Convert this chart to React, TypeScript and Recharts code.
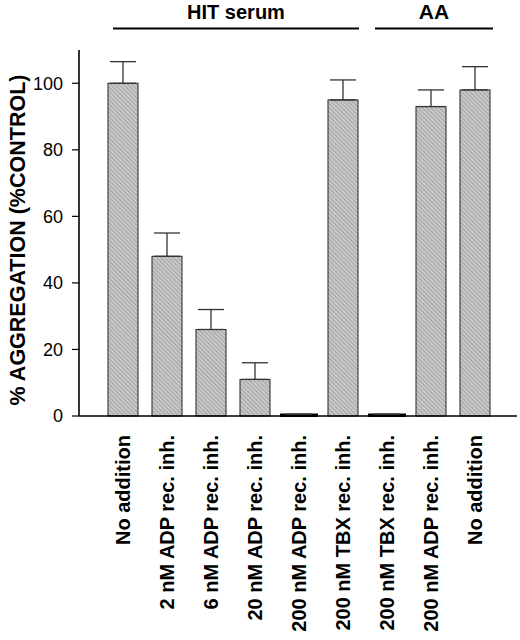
import React from 'react';
import { BarChart, Bar, XAxis, YAxis, ErrorBar } from 'recharts';

const FONT = '"Liberation Sans", Arial, Helvetica, sans-serif';

// conditions, left to right
const labels = [
  'No addition',
  '2 nM ADP rec. inh.',
  '6 nM ADP rec. inh.',
  '20 nM ADP rec. inh.',
  '200 nM ADP rec. inh.',
  '200 nM TBX rec. inh.',
  '200 nM TBX rec. inh.',
  '200 nM ADP rec. inh.',
  'No addition',
];
// % aggregation (% control)
const means = [100, 48, 26, 11, 0.5, 95, 0.5, 93, 98];
// upper error (SD), one-sided
const errors = [6.5, 7, 6, 5, 0, 6, 0, 5, 7];
const yTicks = [0, 20, 40, 60, 80, 100];

const data = labels.map((label, i) => ({
  key: `c${i}`,
  label,
  value: means[i],
  err: [0, errors[i]],
}));

function CategoryTick(props: any) {
  const { x, y, payload } = props;
  const text = labels[payload.index] ?? '';
  return (
    <text
      x={x}
      y={y}
      transform={`rotate(-90, ${x}, ${y})`}
      textAnchor="end"
      dy="0.36em"
      fontFamily={FONT}
      fontWeight="bold"
      fontSize={20}
      fill="#000"
    >
      {text}
    </text>
  );
}

function HatchBar(props: any) {
  const { x, y, width, height, payload } = props;
  if (payload.value < 1) {
    // tiny values show up as a thick black stroke on the baseline
    return <rect x={x - 4} y={y + height - 2.5} width={width + 8} height={3.5} fill="#000" />;
  }
  return (
    <rect x={x} y={y} width={width} height={height} fill="url(#hatch)" stroke="#222" strokeWidth={1} />
  );
}

export default function App() {
  return (
    <div style={{ position: 'absolute', left: 0, top: 0, width: 520, height: 640, background: '#fff' }}>
      <BarChart
        width={520}
        height={640}
        data={data}
        margin={{ top: 50, right: 3, bottom: 0, left: 0 }}
      >
        <defs>
          <pattern id="hatch" width="3" height="3" patternUnits="userSpaceOnUse" patternTransform="rotate(-45)">
            <rect width="3" height="3" fill="#c8c8c8" />
            <line x1="0" y1="0" x2="0" y2="3" stroke="#8c8c8c" strokeWidth="1.2" />
          </pattern>
        </defs>
        <XAxis
          dataKey="key"
          height={224}
          interval={0}
          padding={{ left: 22, right: 20 }}
          tickLine={false}
          tickSize={6}
          tickMargin={13}
          tick={<CategoryTick />}
          axisLine={{ stroke: '#000', strokeWidth: 1.6 }}
        />
        <YAxis
          width={79}
          domain={[0, 110]}
          ticks={yTicks}
          tickSize={7}
          tickMargin={9}
          axisLine={{ stroke: '#000', strokeWidth: 1.6 }}
          tickLine={{ stroke: '#000', strokeWidth: 1.2 }}
          tick={{ fontFamily: FONT, fontSize: 18, fill: '#000' }}
        />
        <Bar dataKey="value" barSize={30} shape={<HatchBar />} isAnimationActive={false}>
          <ErrorBar dataKey="err" width={13} stroke="#333" strokeWidth={1.3} isAnimationActive={false} />
        </Bar>
      </BarChart>
      <svg
        width={520}
        height={640}
        style={{ position: 'absolute', left: 0, top: 0, pointerEvents: 'none' }}
      >
        <text x={236} y={19} textAnchor="middle" fontFamily={FONT} fontWeight="bold" fontSize={20} fill="#000">
          HIT serum
        </text>
        <line x1={113} y1={28.5} x2={359} y2={28.5} stroke="#000" strokeWidth={1.8} />
        <text x={434} y={19} textAnchor="middle" fontFamily={FONT} fontWeight="bold" fontSize={21} fill="#000">
          AA
        </text>
        <line x1={375} y1={28.5} x2={493} y2={28.5} stroke="#000" strokeWidth={1.8} />
        <text
          x={17}
          y={240}
          transform="rotate(-90, 17, 240)"
          textAnchor="middle"
          dy="0.36em"
          fontFamily={FONT}
          fontWeight="bold"
          fontSize={21.5}
          fill="#000"
        >
          % AGGREGATION (%CONTROL)
        </text>
      </svg>
    </div>
  );
}
